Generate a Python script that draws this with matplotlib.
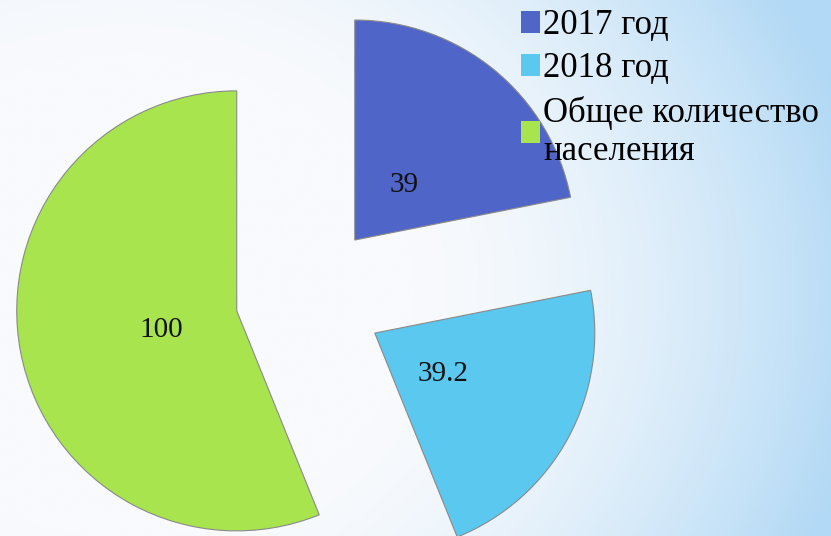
import matplotlib
matplotlib.use("Agg")
import matplotlib.pyplot as plt
from matplotlib import font_manager as fm
from matplotlib.patches import Patch
import numpy as np

labels = ["2017 год", "2018 год", "Общее количество\nнаселения"]
values = [39, 39.2, 100]
colors = ["#4f65c8", "#5bc8f0", "#a8e44e"]

serif_path = fm.findfont(fm.FontProperties(family="Liberation Serif"))

W, H = 831, 536
fig = plt.figure(figsize=(W / 100, H / 100), dpi=100)
ax = fig.add_axes([0, 0, 1, 1])

# pie geometry in pixels: centre and radius
cx, cy, r = 308, 297, 220
x0, x1 = -cx / r, (W - cx) / r
y0, y1 = -(H - cy) / r, cy / r

# background gradient: pale on the left, light blue to the right
gx = np.linspace(0, 1, 400)
gy = np.linspace(0, 1, 260)
X, Y = np.meshgrid(gx, gy)
d = np.sqrt(((X - 0.15) / 1.0) ** 2 + ((Y - 0.55) / 1.3) ** 2)
t = np.clip((d - 0.35) / 0.55, 0, 1) ** 1.6
c_in = np.array([248, 250, 253]) / 255
c_out = np.array([178, 217, 245]) / 255
img = c_in[None, None, :] * (1 - t[..., None]) + c_out[None, None, :] * t[..., None]
ax.imshow(img, extent=(x0, x1, y0, y1), origin="upper", aspect="auto", zorder=0)

total = sum(values)


def fmt(p):
    return f"{round(p * total / 100, 1):g}"


wedges, texts, autotexts = ax.pie(
    values, explode=[0.335, 0.345, 0.33], startangle=90, counterclock=False,
    colors=colors, autopct=fmt, pctdistance=0.35,
    wedgeprops=dict(edgecolor="#8a8a8a", linewidth=0.8),
    textprops=dict(fontproperties=fm.FontProperties(fname=serif_path, size=21),
                   color="#111111"))
for w in wedges:
    w.set_zorder(2)
for a in autotexts:
    a.set_zorder(3)
    px, py = a.get_position()
    a.set_position((px, py - 4 / r))  # labels sit a little lower in the original

ax.set_xlim(x0, x1)
ax.set_ylim(y0, y1)
ax.set_aspect("auto")
ax.axis("off")

handles = [Patch(facecolor=c, edgecolor="none") for c in colors]
leg = fig.legend(handles, labels, loc="upper left",
                 bbox_to_anchor=(521 / W, 1 - 9 / H),
                 frameon=False, borderpad=0, borderaxespad=0,
                 handlelength=0.55, handleheight=0.6, handletextpad=0.08,
                 labelspacing=0.3,
                 prop=fm.FontProperties(fname=serif_path, size=25))
for t_ in leg.get_texts():
    t_.set_linespacing(1.2)

fig.savefig("out.png", dpi=100)
